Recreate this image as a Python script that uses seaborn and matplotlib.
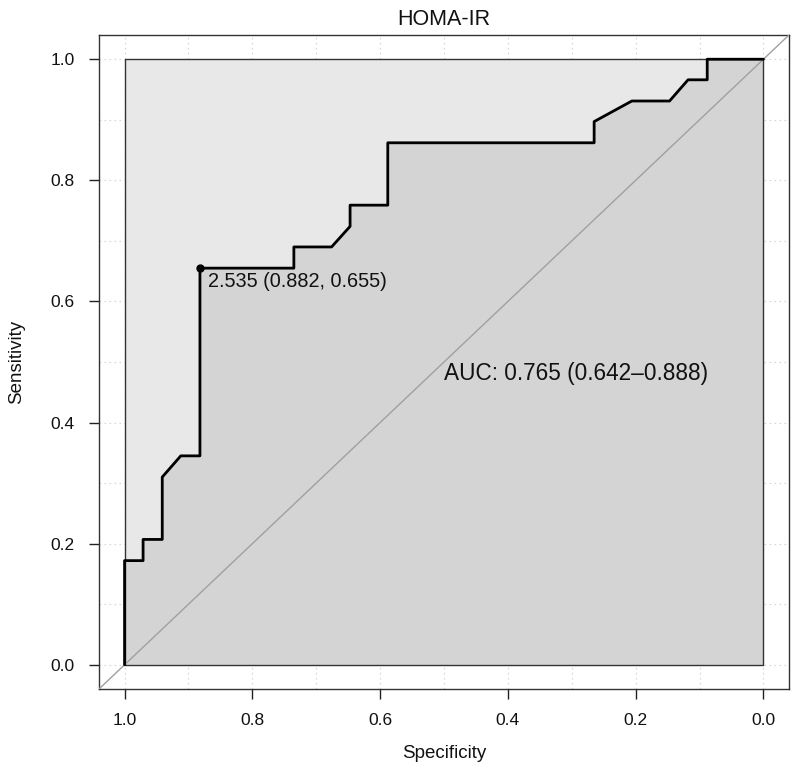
import matplotlib
matplotlib.use("Agg")
import matplotlib.pyplot as plt
import seaborn as sns
import numpy as np
import pandas as pd

# ROC curve points (specificity, sensitivity)
specificity = [1.0, 1.0, 0.971, 0.971, 0.941, 0.941, 0.912, 0.882, 0.882, 0.735, 0.735,
               0.676, 0.647, 0.647, 0.588, 0.588, 0.265, 0.265, 0.206, 0.147, 0.118,
               0.088, 0.088, 0.0]
sensitivity = [0.0, 0.172, 0.172, 0.207, 0.207, 0.310, 0.345, 0.345, 0.655, 0.655, 0.690,
               0.690, 0.724, 0.759, 0.759, 0.862, 0.862, 0.897, 0.931, 0.931, 0.966,
               0.966, 1.0, 1.0]
best_threshold = 2.535
best_spec = 0.882
best_sens = 0.655
auc_text = "AUC: 0.765 (0.642\u20130.888)"
title = "HOMA-IR"
tick_values = [1.0, 0.8, 0.6, 0.4, 0.2, 0.0]
tick_labels = ["1.0", "0.8", "0.6", "0.4", "0.2", "0.0"]

df = pd.DataFrame({"Specificity": specificity, "Sensitivity": sensitivity})

sns.set_style("white")
plt.rcParams["font.family"] = ["Liberation Sans", "DejaVu Sans"]

fig = plt.figure(figsize=(7.94, 7.71), dpi=100)
ax = fig.add_axes([99 / 794, 1 - 689 / 771, 690 / 794, 654 / 771])

ax.set_xlim(1.04, -0.04)
ax.set_ylim(-0.04, 1.04)

# grid (dotted, under fills)
for v in np.arange(0, 1.01, 0.1):
    ax.axvline(v, color="#d6d6d6", lw=0.8, ls=(0, (1.5, 3)), zorder=0)
    ax.axhline(v, color="#d6d6d6", lw=0.8, ls=(0, (1.5, 3)), zorder=0)

# max AUC polygon (unit square)
ax.fill([1, 1, 0, 0], [0, 1, 1, 0], color="#e8e8e8", zorder=1, lw=0)
# AUC polygon
ax.fill(specificity + [0.0, 1.0], sensitivity + [0.0, 0.0], color="#d4d4d4", zorder=2, lw=0)
ax.plot([1, 1, 0, 0, 1], [0, 1, 1, 0, 0], color="#333333", lw=1.0, zorder=3)

# diagonal
ax.axline((1, 0), (0, 1), color="#a0a0a0", lw=1.0, zorder=3)

sns.lineplot(data=df, x="Specificity", y="Sensitivity", sort=False, estimator=None,
             color="black", lw=2.0, ax=ax, zorder=5)

ax.plot([best_spec], [best_sens], "o", color="black", ms=5, zorder=6)
ax.text(best_spec - 0.012, best_sens - 0.006, f"{best_threshold} ({best_spec}, {best_sens})",
        ha="left", va="top", fontsize=14.3, color="#111111", zorder=6)

ax.text(0.5, 0.5, auc_text, ha="left", va="top", fontsize=16.3, color="#111111", zorder=6)

ax.set_xticks(tick_values)
ax.set_xticklabels(tick_labels)
ax.set_yticks(tick_values)
ax.set_yticklabels(tick_labels)
ax.tick_params(axis="both", which="major", length=7.5, width=1.0, color="#222222",
               labelsize=12.5, direction="out", pad=10, labelcolor="#111111",
               bottom=True, left=True)
for s in ax.spines.values():
    s.set_color("#333333")
    s.set_linewidth(1.0)
    s.set_visible(True)

ax.set_xlabel("Specificity", fontsize=13.5, labelpad=12, color="#111111")
ax.set_ylabel("Sensitivity", fontsize=13.5, labelpad=18, color="#111111")
ax.set_title(title, fontsize=15.5, pad=7, color="#111111")

fig.savefig("out.png", dpi=100)
